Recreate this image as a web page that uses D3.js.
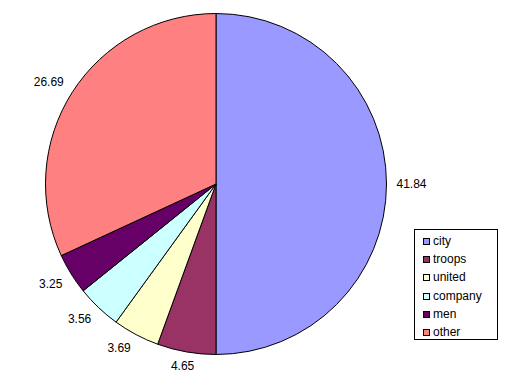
<!DOCTYPE html>
<html><head><meta charset="utf-8">
<script src="https://cdn.jsdelivr.net/npm/d3@7"></script>
<style>body{margin:0;background:#fff}svg{display:block}text{font-family:"Liberation Sans",Arial,sans-serif;font-size:12px;fill:#000}</style>
</head><body><svg id="c" width="519" height="390"></svg>
<script>
const categories = ["city","troops","united","company","men","other"];
const values = [41.84,4.65,3.69,3.56,3.25,26.69];
const colors = ["#9999FF","#993366","#FFFFCC","#CCFFFF","#660066","#FF8080"];

const svg = d3.select("#c");
const cx = 216, cy = 184, r = 170.5;
const data = categories.map((c,i)=>({cat:c,value:values[i],color:colors[i]}));
const pie = d3.pie().sort(null).value(d=>d.value);
const arcs = pie(data);
const arc = d3.arc().innerRadius(0).outerRadius(r);
const g = svg.append("g").attr("transform",`translate(${cx},${cy})`);
g.selectAll("path").data(arcs).join("path")
  .attr("d",arc).attr("fill",d=>d.data.color)
  .attr("stroke","#000").attr("stroke-width",1).attr("stroke-linejoin","round");

// labels
arcs.forEach(a=>{
  const m=(a.startAngle+a.endAngle)/2;
  const s=Math.sin(m), c=Math.cos(m);
  const R=r+9;
  const px=R*s, py=-R*c;
  const txt=d3.format(".2f")(a.data.value);
  const hw=txt.length*3.2, hh=5;
  const bx=px+(Math.abs(s)>0.2?Math.sign(s)*hw:s*hw);
  const by=py+(Math.abs(c)>0.2?-Math.sign(c)*hh:-c*hh);
  g.append("text").attr("x",bx).attr("y",by).attr("text-anchor","middle")
   .attr("dominant-baseline","central").text(txt);
});

// legend
const lx=414, ly=229, lw=83, lh=110;
svg.append("rect").attr("x",lx+0.5).attr("y",ly+0.5).attr("width",lw).attr("height",lh)
  .attr("fill","#fff").attr("stroke","#000");
const ly0=241, step=18.2;
const lg=svg.append("g");
data.forEach((d,i)=>{
  const y=ly0+i*step;
  lg.append("rect").attr("x",423.5).attr("y",Math.round(y-3)+0.5).attr("width",6).attr("height",6)
    .attr("fill",d.color).attr("stroke","#000").attr("stroke-width",1);
  lg.append("text").attr("x",433).attr("y",y).attr("dominant-baseline","central").text(d.cat);
});
</script></body></html>
